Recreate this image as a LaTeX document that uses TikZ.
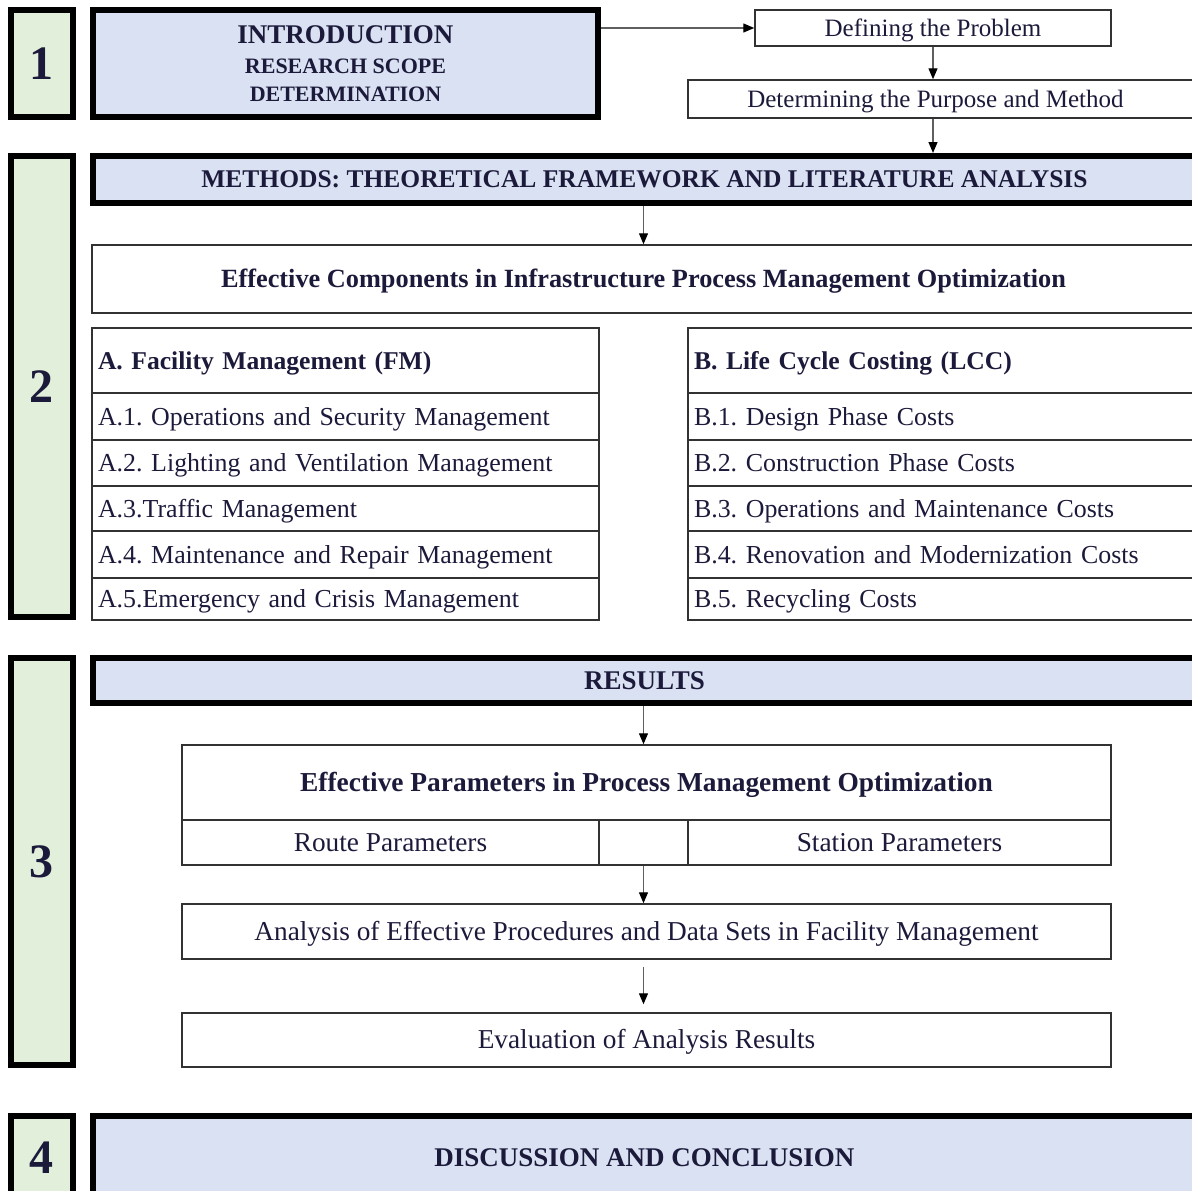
\documentclass[tikz,border=0pt]{standalone}
\usepackage{fontspec}
\setmainfont{Liberation Serif}
\usetikzlibrary{arrows.meta,calc}
\definecolor{txt}{RGB}{28,26,58}
\definecolor{greenbg}{RGB}{226,239,218}
\definecolor{bluebg}{RGB}{217,225,242}
\definecolor{lin}{RGB}{50,50,50}
\definecolor{arrlin}{RGB}{95,95,95}
\newcommand{\mkbox}[7]{%
  \pgfmathsetmacro{\mybw}{#5-#3}\pgfmathsetmacro{\mybh}{#6-#4}%
  \pgfmathsetmacro{\mycx}{(#3+#5)/2}\pgfmathsetmacro{\mycy}{(#4+#6)/2}%
  \pgfmathsetmacro{\mytw}{#5-#3-12}%
  \node[#2, minimum width=\mybw pt, minimum height=\mybh pt] (#1) at (\mycx,\mycy) {#7};}
\begin{document}
\frenchspacing
\begin{tikzpicture}[x=1pt,y=-1pt,
  numbox/.style={draw=black, line width=5.5pt, fill=greenbg, inner sep=0pt, text=txt,
    font=\fontsize{48}{50}\selectfont\bfseries},
  headbox/.style={draw=black, line width=6pt, fill=bluebg, inner sep=0pt, text=txt},
  plainbox/.style={draw=lin, line width=1.5pt, fill=white, inner sep=0pt, text=txt,
    text height=19.5pt, text depth=2.5pt},
  rowbox/.style={plainbox, text width=\mytw pt, align=left},
  regf/.style={font=\fontsize{27.3}{32}\selectfont\frenchspacing},
  tabf/.style={font=\fontsize{25.9}{32}\selectfont\frenchspacing},
  smallf/.style={font=\fontsize{25}{30}\selectfont},
  bldf/.style={font=\fontsize{26.3}{32}\selectfont\bfseries\frenchspacing},
  tabbf/.style={font=\fontsize{25.6}{32}\selectfont\bfseries\frenchspacing},
  arr/.style={draw=arrlin, line width=1.3pt, -{Triangle[length=11pt,width=9pt,color=black]}}
]
\useasboundingbox (0,0) rectangle (1192,1191);
\clip (0,0) rectangle (1192,1191);
\fill[white] (0,0) rectangle (1192,1191);

% ---------- section 1 ----------
\mkbox{n1}{numbox}{11}{10}{73}{117}{1}
\mkbox{intro}{headbox, align=center, font=\fontsize{22}{29.5}\selectfont\bfseries}{93}{10}{598}{117}{%
  {\fontsize{27}{31}\selectfont INTRODUCTION}\\
  RESEARCH SCOPE\\[-1.5pt]
  DETERMINATION}
\mkbox{def}{plainbox, smallf}{755}{10}{1111}{46}{Defining the Problem}
\mkbox{det}{plainbox, smallf}{688}{80}{1193}{118}{\hspace*{-10pt}Determining the Purpose and Method}

% ---------- section 2 ----------
\mkbox{n2}{numbox}{11}{156}{73}{617}{2}
\mkbox{methods}{headbox, font=\fontsize{25.5}{30}\selectfont\bfseries}{93}{156}{1196}{203}{METHODS: THEORETICAL FRAMEWORK AND LITERATURE ANALYSIS}
\mkbox{effcomp}{plainbox, bldf}{92}{245}{1195}{313}{Effective Components in Infrastructure Process Management Optimization}

\mkbox{ha}{rowbox, tabbf}{92}{328}{599}{393}{A. Facility Management (FM)}
\mkbox{a1}{rowbox, tabf}{92}{393}{599}{440}{A.1. Operations and Security Management}
\mkbox{a2}{rowbox, tabf}{92}{440}{599}{486}{A.2. Lighting and Ventilation Management}
\mkbox{a3}{rowbox, tabf}{92}{486}{599}{531}{A.3.Traffic Management}
\mkbox{a4}{rowbox, tabf}{92}{531}{599}{578}{A.4. Maintenance and Repair Management}
\mkbox{a5}{rowbox, tabf}{92}{578}{599}{620}{A.5.Emergency and Crisis Management}

\mkbox{hb}{rowbox, tabbf}{688}{328}{1195}{393}{B. Life Cycle Costing (LCC)}
\mkbox{b1}{rowbox, tabf}{688}{393}{1195}{440}{B.1. Design Phase Costs}
\mkbox{b2}{rowbox, tabf}{688}{440}{1195}{486}{B.2. Construction Phase Costs}
\mkbox{b3}{rowbox, tabf}{688}{486}{1195}{531}{B.3. Operations and Maintenance Costs}
\mkbox{b4}{rowbox, tabf}{688}{531}{1195}{578}{B.4. Renovation and Modernization Costs}
\mkbox{b5}{rowbox, tabf}{688}{578}{1195}{620}{B.5. Recycling Costs}

% ---------- section 3 ----------
\mkbox{n3}{numbox}{11}{658}{73}{1065}{3}
\mkbox{results}{headbox, font=\fontsize{27}{30}\selectfont\bfseries}{93}{658}{1196}{703}{RESULTS}
\mkbox{params}{plainbox, font=\fontsize{27.4}{32}\selectfont\bfseries\frenchspacing}{182}{745}{1111}{820}{Effective Parameters in Process Management Optimization}
\mkbox{route}{plainbox, regf}{182}{820}{599}{865}{Route Parameters}
\mkbox{mid}{plainbox}{599}{820}{688}{865}{}
\mkbox{station}{plainbox, regf}{688}{820}{1111}{865}{Station Parameters}
\mkbox{analysis}{plainbox, regf}{182}{904}{1111}{959}{Analysis of Effective Procedures and Data Sets in Facility Management}
\mkbox{eval}{plainbox, regf}{182}{1013}{1111}{1067}{Evaluation of Analysis Results}

% ---------- section 4 ----------
\mkbox{n4}{numbox}{11}{1116}{73}{1200}{4}
\mkbox{disc}{headbox, font=\fontsize{27}{30}\selectfont\bfseries}{93}{1116}{1196}{1200}{DISCUSSION AND CONCLUSION}

% ---------- connectors ----------
\draw[arr] (intro.east |- def.west) -- (def.west);
\draw[arr] (def.south) -- (def.south |- det.north);
\draw[arr] (def.south |- det.south) -- (def.south |- methods.north);
\draw[arr] (effcomp.north |- methods.south) -- (effcomp.north);
\draw[arr] (mid.north |- results.south) -- (mid.north |- params.north);
\draw[arr] (mid.south) -- (mid.south |- analysis.north);
\draw[arr, shorten <=7pt, shorten >=8pt] (mid.south |- analysis.south) -- (mid.south |- eval.north);
\end{tikzpicture}
\end{document}
